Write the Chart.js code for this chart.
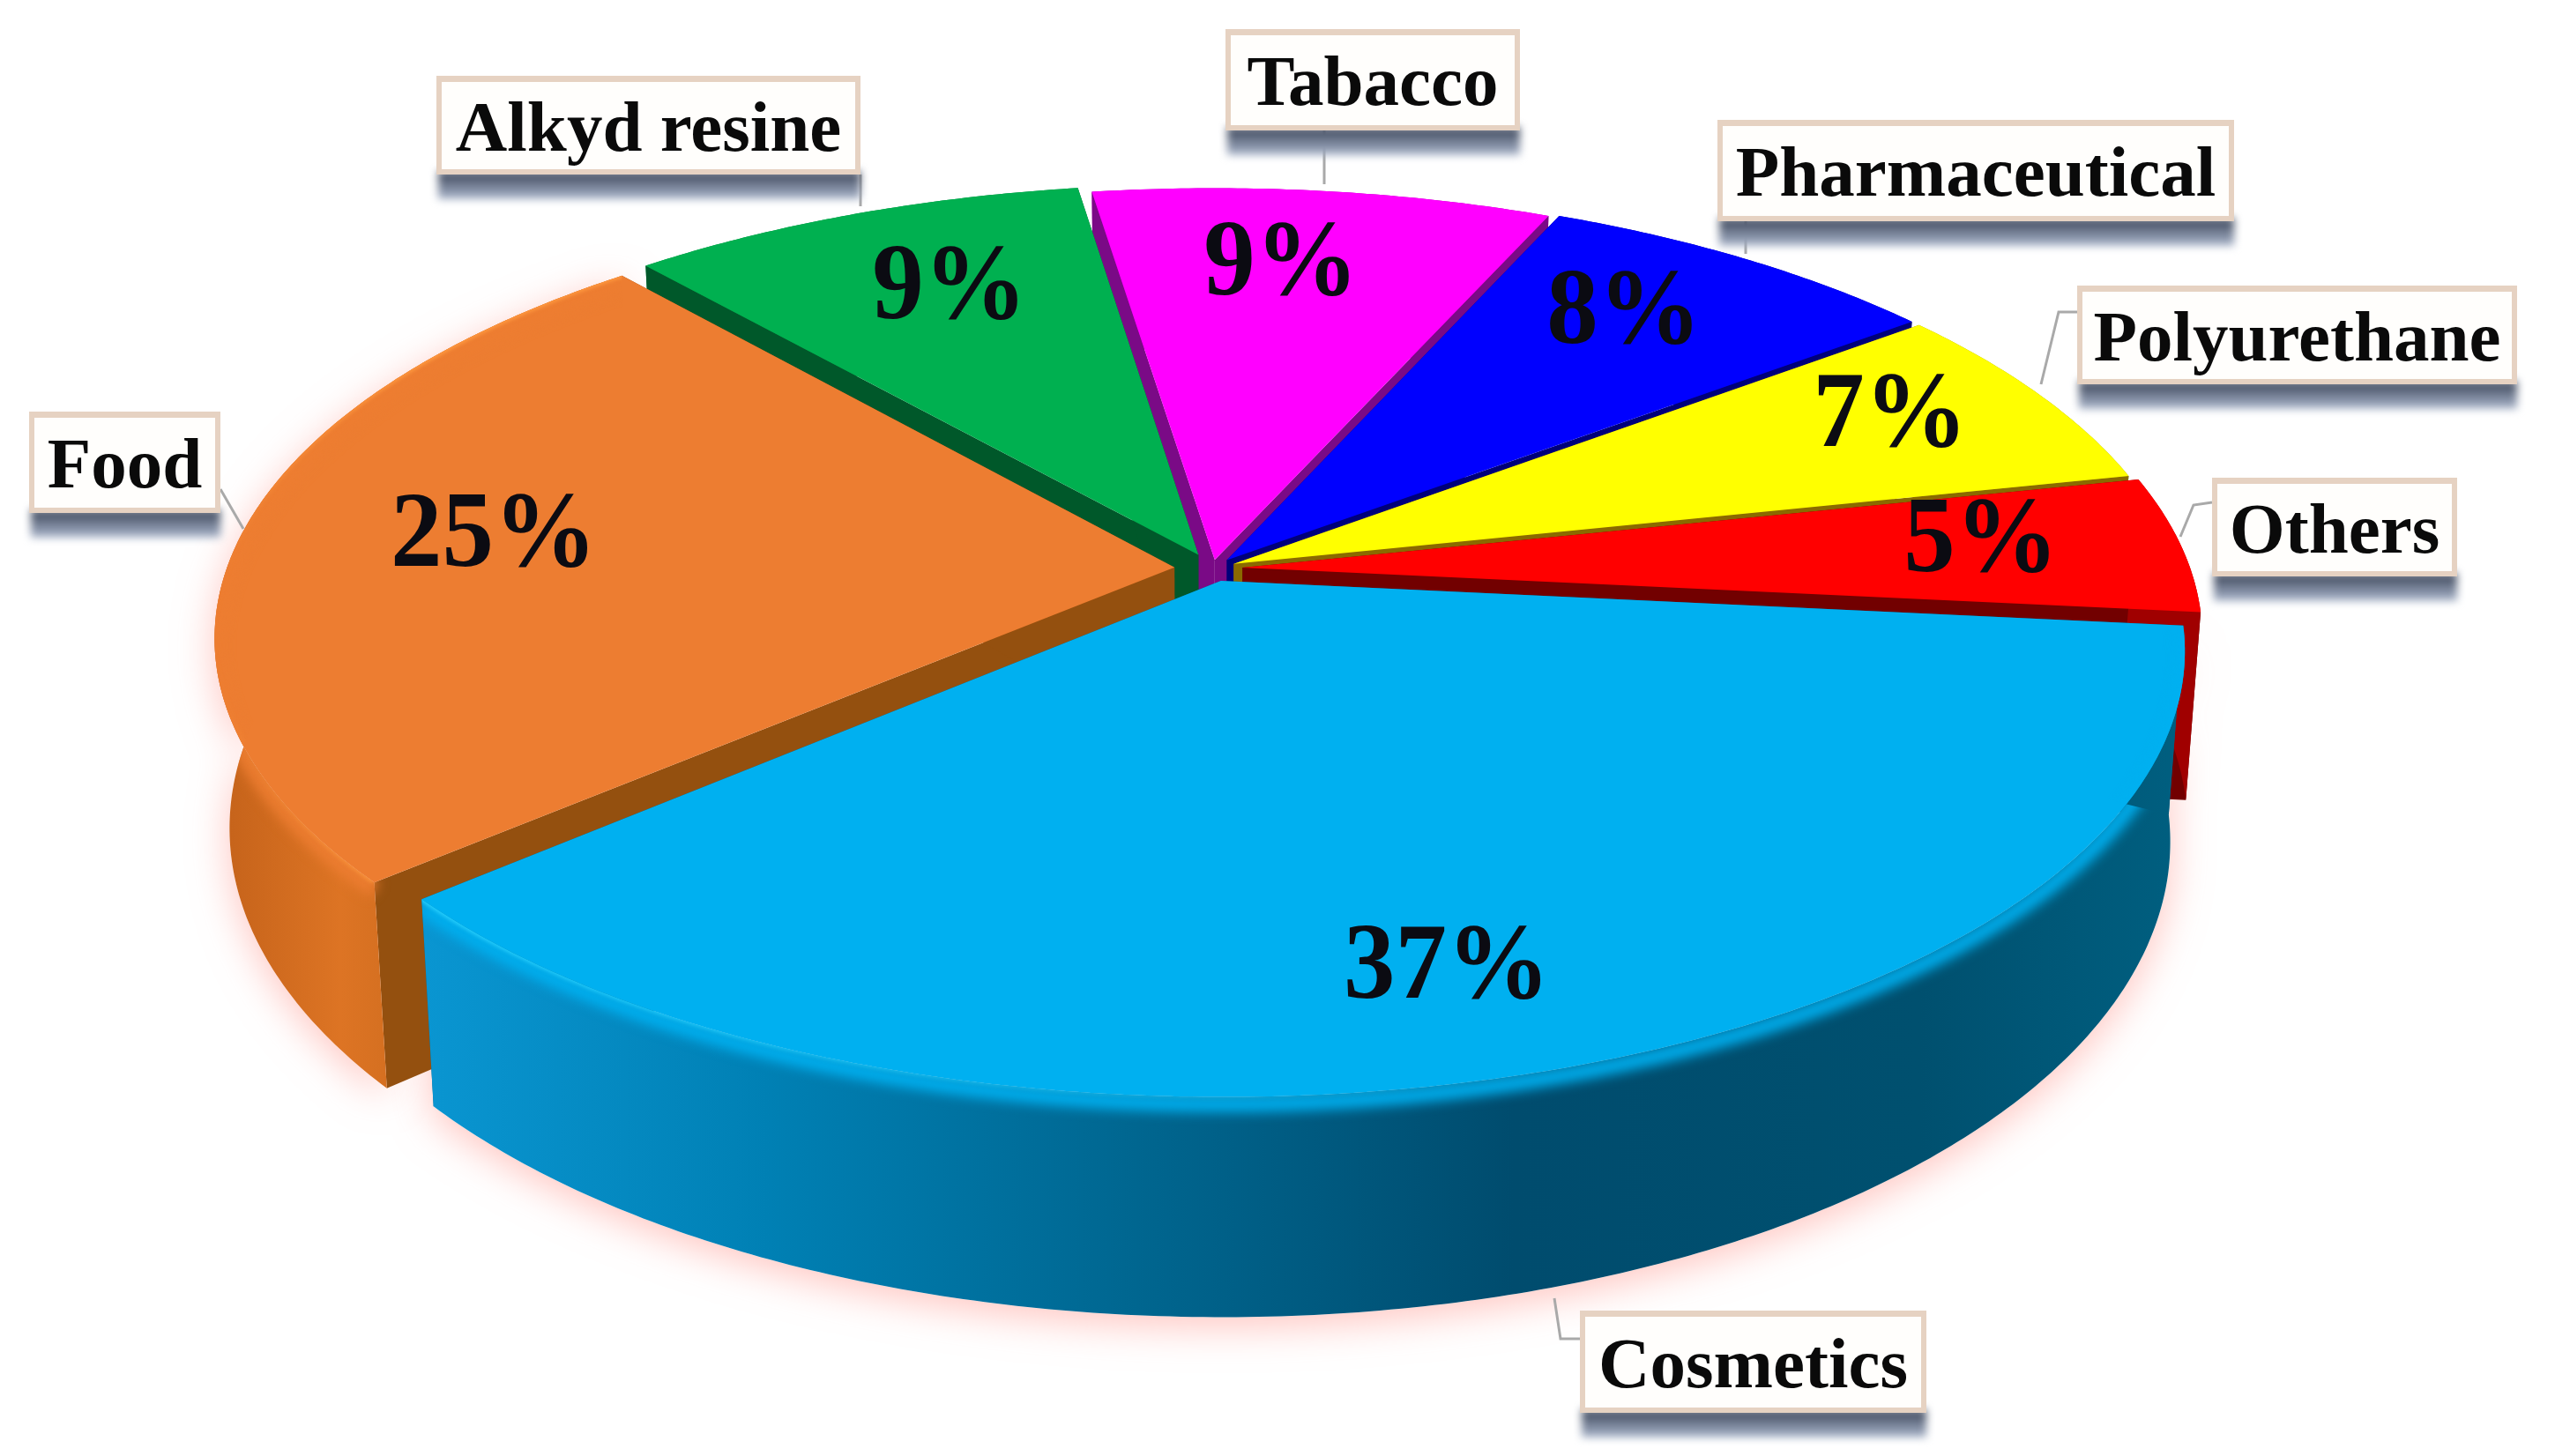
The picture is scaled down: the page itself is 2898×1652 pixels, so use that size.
<!DOCTYPE html>
<html>
<head>
<meta charset="utf-8">
<title>Pie</title>
<script src="https://cdn.jsdelivr.net/npm/chart.js@4/dist/chart.umd.min.js"></script>
<style>
  html, body { margin: 0; background: #fff; }
  canvas { display: block; }
</style>
</head>
<body>
<canvas id="pie" width="2898" height="1652"></canvas>
<script>
"use strict";

const categories = ["Cosmetics", "Food", "Alkyd resine", "Tabacco", "Pharmaceutical", "Polyurethane", "Others"];
const shares = [37, 25, 9, 9, 8, 7, 5];

const TOP = ["#00b0f0", "#ed7d31", "#00b050", "#ff00ff", "#0000ff", "#ffff00", "#ff0000"];
const CUT = ["#005f85", "#94500f", "#00582a", "#7a0a86", "#00007a", "#8a6a00", "#720000"];
const RIM = ["#006c99", "#d46f22", "#008a3e", "#b000b0", "#0000a0", "#a0a000", "#a00000"];
const GAP = [0.03, 0.04, 0.035, 0.02, 0.025, 0.025, 0.032]; // explode, fraction of radius

// pie plane -> screen, with a bit of perspective
const CAM = { x: 1375, y: 645, a: 1075, b: 490, p: 0.155, depth: 210, taper: 0.015 };

const boxes = [
  { text: "Cosmetics", x: 1792, y: 1487, w: 393, h: 116, line: [[1792, 1519], [1770, 1519], [1763, 1473]] },
  { text: "Food", x: 33, y: 467, w: 217, h: 115, line: [[250, 555], [276, 600]] },
  { text: "Alkyd resine", x: 495, y: 86, w: 481, h: 112, line: [[976, 198], [976, 234]] },
  { text: "Tabacco", x: 1390, y: 33, w: 334, h: 115, line: [[1502, 148], [1502, 209]] },
  { text: "Pharmaceutical", x: 1948, y: 136, w: 586, h: 115, line: [[1980, 251], [1980, 288]] },
  { text: "Polyurethane", x: 2356, y: 324, w: 499, h: 112, line: [[2356, 354], [2335, 354], [2315, 436]] },
  { text: "Others", x: 2509, y: 542, w: 278, h: 112, line: [[2509, 570], [2488, 573], [2473, 609]] },
];
const pctSpots = [[1641, 1100], [560, 610], [1077, 329], [1453, 302], [1842, 357], [2144, 474], [2247, 616]];

function project(u, v) {
  const w = 1 - CAM.p * v;
  return { x: CAM.x + CAM.a * u / w, y: CAM.y + CAM.b * v / w, drop: CAM.depth / w };
}

// rim and apex of one arc element, in screen coordinates
function outline(arc, gap) {
  const { startAngle, endAngle } = arc.getProps(["startAngle", "endAngle"], true);
  const mid = (startAngle + endAngle) / 2;
  const ox = gap * Math.cos(mid), oy = gap * Math.sin(mid);
  const n = Math.ceil((endAngle - startAngle) / 0.01);
  const rim = [];
  for (let i = 0; i <= n; i++) {
    const t = startAngle + (endAngle - startAngle) * i / n;
    rim.push(project(ox + Math.cos(t), oy + Math.sin(t)));
  }
  return { apex: project(ox, oy), rim, mid };
}

function tracePoly(ctx, pts) {
  ctx.beginPath();
  pts.forEach((p, i) => (i ? ctx.lineTo(p.x, p.y) : ctx.moveTo(p.x, p.y)));
  ctx.closePath();
}

function wall(pts) {
  return pts.concat(pts.slice().reverse().map((p) => ({
    x: p.x + (CAM.x - p.x) * CAM.taper,
    y: p.y + p.drop,
  })));
}

function rimFill(ctx, i) {
  if (i === 0) {
    const g = ctx.createLinearGradient(470, 0, 2480, 0);
    g.addColorStop(0, "#0a96d2");
    g.addColorStop(0.2, "#0080b4");
    g.addColorStop(0.4, "#006791");
    g.addColorStop(0.62, "#004c6e");
    g.addColorStop(0.85, "#00506f");
    g.addColorStop(1, "#005f80");
    return g;
  }
  if (i === 1) {
    const g = ctx.createLinearGradient(246, 0, 480, 0);
    g.addColorStop(0, "#c4621a");
    g.addColorStop(0.6, "#dd7424");
    g.addColorStop(1, "#cf6c1e");
    return g;
  }
  return RIM[i];
}

const pie3d = {
  id: "pie3d",
  beforeDatasetsDraw(chart) {
    const ctx = chart.ctx;
    const arcs = chart.getDatasetMeta(0).data;
    const shapes = arcs.map((arc, i) => ({ i, ...outline(arc, GAP[i]) }));
    // painter's order, back slices first
    const order = shapes.slice().sort((a, b) => Math.sin(a.mid) - Math.sin(b.mid));

    // pale glow under the front edge
    ctx.save();
    ctx.shadowColor = "rgba(255,150,140,.55)";
    ctx.shadowBlur = 45;
    ctx.shadowOffsetY = 10;
    ctx.fillStyle = "#fff";
    [0, 1].forEach((i) => { tracePoly(ctx, wall(shapes[i].rim)); ctx.fill(); });
    ctx.restore();

    order.forEach((s) => {
      const { i, apex, rim, mid } = s;
      const first = rim[0], last = rim[rim.length - 1];
      const drawRim = () => {
        ctx.fillStyle = rimFill(ctx, i);
        tracePoly(ctx, wall(rim)); ctx.fill();
      };
      // back slices: the rim is behind the cut faces
      if (Math.sin(mid) < -0.3) drawRim();
      ctx.fillStyle = CUT[i];
      tracePoly(ctx, wall([apex, first])); ctx.fill();
      tracePoly(ctx, wall([apex, last])); ctx.fill();
      if (Math.sin(mid) >= -0.3) drawRim();

      ctx.fillStyle = arcs[i].options.backgroundColor;
      tracePoly(ctx, [apex, ...rim]); ctx.fill();

      // soft bevel on the two big front slices
      if (i < 2) {
        ctx.save();
        tracePoly(ctx, wall(rim).concat([apex])); ctx.clip();
        ctx.filter = "blur(7px)";
        ctx.strokeStyle = TOP[i];
        ctx.lineWidth = 18;
        ctx.beginPath();
        rim.forEach((p, k) => (k ? ctx.lineTo(p.x, p.y + 8) : ctx.moveTo(p.x, p.y + 8)));
        ctx.stroke();
        ctx.filter = "blur(2px)";
        const g = ctx.createLinearGradient(i ? 480 : 470, 0, i ? 246 : 1900, 0);
        g.addColorStop(0, i ? "#ff9a40" : "#25d0ff");
        g.addColorStop(1, i ? "#ff9a4000" : "#25d0ff00");
        ctx.strokeStyle = g;
        ctx.lineWidth = 8;
        ctx.beginPath();
        rim.forEach((p, k) => (k ? ctx.lineTo(p.x, p.y - 2) : ctx.moveTo(p.x, p.y - 2)));
        ctx.stroke();
        ctx.restore();
      }
    });
    return false; // slices are done, skip the flat ones
  },
  afterDraw(chart) {
    const ctx = chart.ctx;
    ctx.save();
    ctx.textAlign = "center";
    ctx.textBaseline = "middle";

    // percent labels
    ctx.fillStyle = "#0b0b12";
    ctx.font = "bold 117px 'Liberation Serif'";
    shares.forEach((v, i) => {
      ctx.save();
      ctx.translate(pctSpots[i][0], pctSpots[i][1]);
      ctx.scale(1, 1.05);
      ctx.fillText(v + "%", 0, 0);
      ctx.restore();
    });

    boxes.forEach((b) => {
      ctx.strokeStyle = "#a9a9a9";
      ctx.lineWidth = 3;
      ctx.beginPath();
      b.line.forEach((p, k) => (k ? ctx.lineTo(p[0], p[1]) : ctx.moveTo(p[0], p[1])));
      ctx.stroke();

      ctx.save();
      ctx.filter = "blur(5px)";
      const sh = ctx.createLinearGradient(0, b.y + b.h, 0, b.y + b.h + 30);
      sh.addColorStop(0, "#465064");
      sh.addColorStop(1, "#b4c0d6");
      ctx.fillStyle = sh;
      ctx.fillRect(b.x + 2, b.y + b.h - 4, b.w - 2, 32);
      ctx.restore();

      ctx.fillStyle = "#e6d2c2";
      ctx.fillRect(b.x, b.y, b.w, b.h);
      ctx.fillStyle = "#fffefc";
      ctx.fillRect(b.x + 6, b.y + 7, b.w - 12, b.h - 13);

      ctx.fillStyle = "#0a0a0a";
      ctx.font = "bold 81px 'Liberation Serif'";
      ctx.fillText(b.text, b.x + b.w / 2, b.y + b.h / 2 + 8);
    });
    ctx.restore();
  },
};

new Chart(document.getElementById("pie"), {
  type: "pie",
  data: {
    labels: categories,
    datasets: [{ data: shares, backgroundColor: TOP, borderWidth: 0 }],
  },
  options: {
    responsive: false,
    animation: false,
    rotation: 95.8,
    plugins: { legend: { display: false }, tooltip: { enabled: false } },
  },
  plugins: [pie3d],
});
</script>
</body>
</html>
